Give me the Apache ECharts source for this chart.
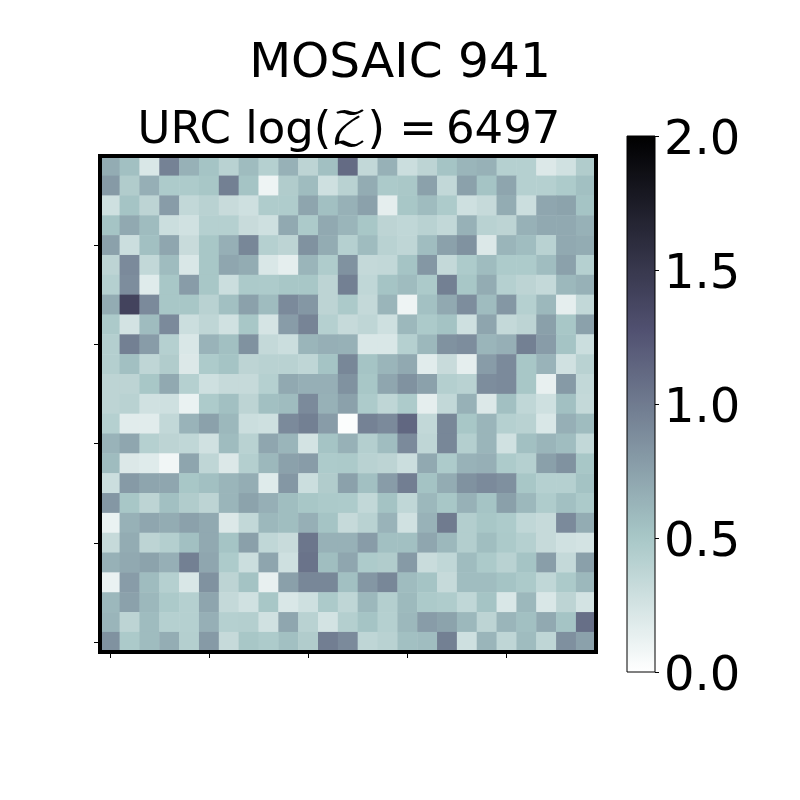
<!DOCTYPE html>
<html><head><meta charset="utf-8">
<style>html,body{margin:0;padding:0;background:#fff}#c{width:800px;height:800px}</style>
<script src="https://cdn.jsdelivr.net/npm/echarts@6/dist/echarts.min.js"></script>
</head><body><div id="c"></div>
<script>
const titleText = 'MOSAIC 941';
const subtitleParts = ['URC log(', '\u{1D4B5}', ') =\u2009', '6497'];
const colorbarMin = 0, colorbarMax = 2, colorbarStep = 0.5;
const row00=[.68,.55,.22,.95,.65,.52,.40,.58,.42,.65,.38,.55,1.10,.35,.65,.30,.38,.52,.62,.65,.42,.42,.20,.27,.45];
const row01=[.80,.45,.66,.47,.47,.50,.97,.52,.10,.45,.58,.28,.40,.68,.48,.49,.75,.35,.75,.52,.73,.42,.42,.47,.55];
const row02=[.28,.52,.38,.78,.35,.40,.32,.28,.46,.46,.73,.55,.65,.75,.15,.50,.58,.47,.28,.33,.68,.30,.72,.74,.52];
const row03=[.52,.70,.58,.30,.27,.42,.42,.32,.28,.70,.48,.70,.62,.50,.38,.36,.40,.35,.65,.40,.38,.65,.70,.70,.65];
const row04=[.75,.30,.55,.72,.32,.50,.66,.92,.42,.38,.85,.68,.42,.58,.40,.37,.57,.75,.85,.20,.62,.57,.40,.70,.68];
const row05=[.38,.90,.35,.58,.22,.50,.72,.68,.22,.15,.62,.46,.85,.34,.35,.52,.82,.34,.47,.58,.47,.47,.57,.75,.42];
const row06=[.42,.88,.18,.50,.78,.50,.30,.48,.47,.50,.50,.38,.97,.36,.52,.58,.48,.97,.50,.68,.42,.38,.34,.60,.65];
const row07=[.68,1.40,.90,.50,.50,.40,.55,.75,.58,.90,.82,.38,.48,.34,.62,.10,.54,.70,.88,.58,.82,.42,.60,.15,.35];
const row08=[.48,.25,.58,.90,.30,.37,.27,.50,.24,.78,.94,.42,.33,.37,.28,.60,.48,.53,.28,.73,.34,.38,.76,.50,.75];
const row09=[.43,.97,.78,.42,.22,.63,.55,.85,.34,.30,.62,.66,.65,.22,.22,.42,.60,.85,.88,.62,.66,.97,.78,.52,.30];
const row10=[.43,.55,.37,.45,.20,.47,.52,.38,.40,.40,.37,.52,.92,.52,.62,.70,.17,.32,.15,.78,.90,.50,.63,.27,.40];
const row11=[.38,.38,.50,.70,.42,.28,.33,.33,.42,.70,.66,.66,.85,.50,.72,.85,.75,.43,.40,.88,.90,.50,.13,.80,.35];
const row12=[.38,.40,.27,.28,.12,.47,.55,.38,.55,.58,.90,.65,.75,.47,.37,.47,.15,.35,.65,.20,.55,.36,.28,.55,.34];
const row13=[.42,.17,.17,.35,.63,.75,.60,.30,.28,.90,.97,.78,.02,.95,.90,1.13,.35,.92,.50,.62,.42,.40,.22,.66,.58];
const row14=[.63,.72,.42,.38,.36,.27,.58,.40,.72,.62,.25,.52,.65,.43,.57,.90,.37,.92,.43,.62,.27,.55,.62,.57,.35];
const row15=[.58,.20,.18,.08,.73,.37,.20,.43,.60,.75,.78,.47,.48,.40,.38,.30,.70,.47,.64,.66,.47,.42,.76,.85,.50];
const row16=[.30,.80,.73,.72,.50,.55,.62,.67,.18,.82,.30,.45,.75,.55,.78,.98,.53,.68,.85,.90,.86,.50,.42,.42,.53];
const row17=[.82,.50,.38,.55,.45,.38,.62,.74,.66,.56,.50,.48,.47,.35,.53,.36,.60,.50,.65,.52,.76,.60,.46,.55,.48];
const row18=[.12,.65,.72,.68,.75,.70,.20,.35,.60,.56,.66,.52,.33,.40,.63,.27,.64,1.00,.44,.50,.47,.36,.33,.90,.68];
const row19=[.33,.68,.38,.43,.55,.70,.52,.76,.36,.32,1.03,.65,.65,.78,.55,.55,.72,.60,.44,.56,.48,.42,.33,.27,.25];
const row20=[.65,.70,.74,.66,.97,.72,.47,.30,.73,.28,1.05,.56,.72,.47,.45,.80,.31,.36,.58,.48,.40,.52,.77,.34,.76];
const row21=[.12,.78,.58,.42,.22,.85,.38,.53,.13,.76,.92,.92,.55,.82,.92,.58,.52,.33,.57,.57,.52,.48,.36,.48,.60];
const row22=[.60,.75,.60,.48,.42,.73,.34,.27,.50,.22,.28,.48,.37,.60,.43,.59,.48,.46,.36,.52,.22,.60,.22,.38,.25];
const row23=[.62,.38,.58,.42,.42,.66,.42,.43,.27,.72,.40,.25,.43,.52,.42,.60,.78,.74,.60,.38,.62,.55,.70,.52,1.08];
const row24=[.85,.48,.58,.67,.43,.80,.33,.50,.47,.55,.45,.98,.90,.37,.40,.55,.57,.97,.28,.62,.37,.58,.37,.86,.75];
const rows=[row00,row01,row02,row03,row04,row05,row06,row07,row08,row09,row10,row11,row12,row13,row14,row15,row16,row17,row18,row19,row20,row21,row22,row23,row24];

function interp(pts,s){for(let i=1;i<pts.length;i++){if(s<=pts[i][0]){const a=pts[i-1],b=pts[i];return a[1]+(b[1]-a[1])*(s-a[0])/(b[0]-a[0]);}}return 1;}
const boneR=[[0,0],[.746032,.652778],[1,1]],boneG=[[0,0],[.365079,.319444],[.746032,.777778],[1,1]],boneB=[[0,0],[.365079,.444444],[1,1]];
const ramp=[];
for(let i=0;i<=128;i++){const s=1-i/128;const c=[boneR,boneG,boneB].map(p=>Math.round(255*interp(p,s)));ramp.push(`rgb(${c.join(',')})`);}
// gradient runs top (vmax) to bottom (vmin)
const barStops=ramp.map((c,i)=>({offset:1-i/(ramp.length-1),color:c})).reverse();

const cats=rows.map((_,i)=>String(i));
const cells=[];
rows.forEach((r,y)=>r.forEach((v,x)=>cells.push([x,y,v])));
const FONT='"DejaVu Sans"';
const chart=echarts.init(document.getElementById('c'),null,{renderer:'canvas'});
chart.setOption({
  animation:false,backgroundColor:'#fff',
  title:[
    {text:titleText,left:400,top:35,textAlign:'center',padding:0,textStyle:{fontFamily:FONT,fontWeight:'normal',fontSize:48.6,color:'#000',lineHeight:58}},
    {text:`${subtitleParts[0]}{z|${subtitleParts[1]}}${subtitleParts[2]}${subtitleParts[3]}`,left:349,top:102,textAlign:'center',padding:0,
     textStyle:{fontFamily:FONT,fontWeight:'normal',fontSize:45,color:'#000',lineHeight:58,
       rich:{z:{fontFamily:'"DejaVu Math TeX Gyre","DejaVu Serif","DejaVu Sans"',fontSize:45,color:'#000',lineHeight:58}}}}
  ],
  grid:[
    {left:100,top:156,width:496,height:496,show:true,z:10,backgroundColor:'transparent',borderColor:'#000',borderWidth:4,containLabel:false},
    {left:627,top:136,width:28,height:536,show:true,z:10,backgroundColor:'transparent',borderColor:'#000',borderWidth:1,containLabel:false}
  ],
  graphic:[{type:'rect',z:5,silent:true,shape:{x:627,y:136,width:28,height:536},
    style:{fill:new echarts.graphic.LinearGradient(0,0,0,1,barStops)}}],
  xAxis:[
    {type:'category',gridIndex:0,data:cats,position:'bottom',axisLine:{show:false},axisLabel:{show:false},splitLine:{show:false},
     axisTick:{show:true,alignWithLabel:true,length:6,lineStyle:{color:'#000',width:1},interval:i=>i%5===0}},
    {type:'value',gridIndex:1,min:0,max:1,show:false,axisLine:{onZero:false}}
  ],
  yAxis:[
    {type:'category',gridIndex:0,data:cats,inverse:true,position:'left',axisLine:{show:false},axisLabel:{show:false},splitLine:{show:false},
     axisTick:{show:true,alignWithLabel:true,length:6,lineStyle:{color:'#000',width:1},interval:i=>i%5===4}},
    {type:'value',gridIndex:1,min:colorbarMin,max:colorbarMax,interval:colorbarStep,position:'right',
     axisLine:{show:false,onZero:false},splitLine:{show:false},
     axisTick:{show:true,length:4,lineStyle:{color:'#000',width:1}},
     axisLabel:{show:true,margin:9,formatter:v=>`{a|${v.toFixed(1)}}`,showMinLabel:true,showMaxLabel:true,hideOverlap:false,
       rich:{a:{fontFamily:FONT,fontSize:48,color:'#000',padding:[11,0,0,0]}}}}
  ],
  visualMap:{type:'continuous',show:false,seriesIndex:0,min:colorbarMin,max:colorbarMax,inRange:{color:ramp}},
  series:[{type:'heatmap',xAxisIndex:0,yAxisIndex:0,data:cells,progressive:0,itemStyle:{borderWidth:0},emphasis:{disabled:true}}]
});
</script></body></html>
